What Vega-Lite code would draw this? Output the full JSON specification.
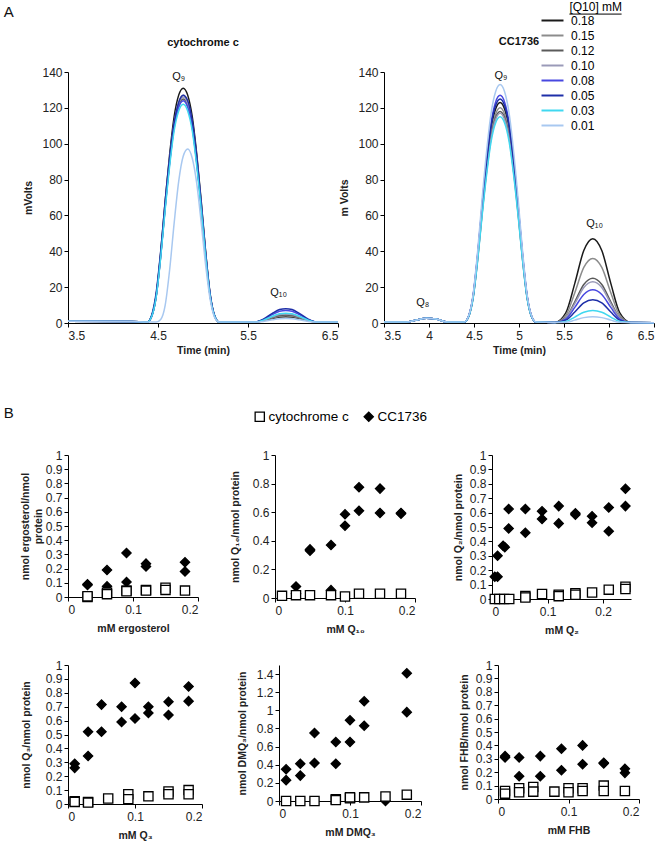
{
"$schema":"https://vega.github.io/schema/vega-lite/v6.json",
"padding":{"left":3,"top":1,"right":4,"bottom":4},
"title":{"text":"A","anchor":"start","frame":"bounds","fontSize":15,"fontWeight":"normal","offset":-19,"font":"Liberation Sans"},
"config":{"font":"Liberation Sans","view":{"stroke":null},
"axis":{"grid":false,"domainColor":"#000","tickColor":"#000","labelFont":"Liberation Sans","labelFontSize":12,"labelColor":"#222","titleFont":"Liberation Sans","titleFontSize":10.5,"titleFontWeight":"bold","titleColor":"#222","tickSize":4,"labelPadding":2,"labelOverlap":false},
"axisX":{"labelPadding":3,"titlePadding":8},
"title":{"font":"Liberation Sans","fontSize":11,"fontWeight":"bold","color":"#111"}},
"datasets":{
"chrom":[
{"p":"L","c":"0.18","t":3.5,"v":1},{"p":"L","c":"0.18","t":4.2,"v":0.8},{"p":"L","c":"0.18","t":4.38,"v":0.5},{"p":"L","c":"0.18","t":4.43,"v":3.9},{"p":"L","c":"0.18","t":4.48,"v":15.7},{"p":"L","c":"0.18","t":4.53,"v":39.3},{"p":"L","c":"0.18","t":4.58,"v":68.1},{"p":"L","c":"0.18","t":4.63,"v":94.3},{"p":"L","c":"0.18","t":4.68,"v":115.3},{"p":"L","c":"0.18","t":4.73,"v":127.1},{"p":"L","c":"0.18","t":4.78,"v":131},{"p":"L","c":"0.18","t":4.83,"v":127.1},{"p":"L","c":"0.18","t":4.88,"v":115.3},{"p":"L","c":"0.18","t":4.93,"v":94.3},{"p":"L","c":"0.18","t":4.98,"v":68.1},{"p":"L","c":"0.18","t":5.03,"v":39.3},{"p":"L","c":"0.18","t":5.08,"v":15.7},{"p":"L","c":"0.18","t":5.13,"v":3.9},{"p":"L","c":"0.18","t":5.18,"v":0.5},{"p":"L","c":"0.18","t":5.57,"v":0.5},{"p":"L","c":"0.18","t":5.67,"v":1.2},{"p":"L","c":"0.18","t":5.77,"v":2.5},{"p":"L","c":"0.18","t":5.85,"v":3.3},{"p":"L","c":"0.18","t":5.92,"v":3.5},{"p":"L","c":"0.18","t":5.99,"v":3.3},{"p":"L","c":"0.18","t":6.07,"v":2.5},{"p":"L","c":"0.18","t":6.17,"v":1.2},{"p":"L","c":"0.18","t":6.27,"v":0.5},{"p":"L","c":"0.18","t":6.5,"v":0.5},
{"p":"L","c":"0.15","t":3.5,"v":1},{"p":"L","c":"0.15","t":4.2,"v":0.8},{"p":"L","c":"0.15","t":4.38,"v":0.5},{"p":"L","c":"0.15","t":4.43,"v":3.8},{"p":"L","c":"0.15","t":4.48,"v":15.2},{"p":"L","c":"0.15","t":4.53,"v":38.1},{"p":"L","c":"0.15","t":4.58,"v":66},{"p":"L","c":"0.15","t":4.63,"v":91.4},{"p":"L","c":"0.15","t":4.68,"v":111.8},{"p":"L","c":"0.15","t":4.73,"v":123.2},{"p":"L","c":"0.15","t":4.78,"v":127},{"p":"L","c":"0.15","t":4.83,"v":123.2},{"p":"L","c":"0.15","t":4.88,"v":111.8},{"p":"L","c":"0.15","t":4.93,"v":91.4},{"p":"L","c":"0.15","t":4.98,"v":66},{"p":"L","c":"0.15","t":5.03,"v":38.1},{"p":"L","c":"0.15","t":5.08,"v":15.2},{"p":"L","c":"0.15","t":5.13,"v":3.8},{"p":"L","c":"0.15","t":5.18,"v":0.5},{"p":"L","c":"0.15","t":5.57,"v":0.5},{"p":"L","c":"0.15","t":5.67,"v":1.3},{"p":"L","c":"0.15","t":5.77,"v":2.8},{"p":"L","c":"0.15","t":5.85,"v":3.8},{"p":"L","c":"0.15","t":5.92,"v":4.0},{"p":"L","c":"0.15","t":5.99,"v":3.8},{"p":"L","c":"0.15","t":6.07,"v":2.8},{"p":"L","c":"0.15","t":6.17,"v":1.3},{"p":"L","c":"0.15","t":6.27,"v":0.5},{"p":"L","c":"0.15","t":6.5,"v":0.5},
{"p":"L","c":"0.12","t":3.5,"v":1},{"p":"L","c":"0.12","t":4.2,"v":0.8},{"p":"L","c":"0.12","t":4.38,"v":0.5},{"p":"L","c":"0.12","t":4.43,"v":3.8},{"p":"L","c":"0.12","t":4.48,"v":15},{"p":"L","c":"0.12","t":4.53,"v":37.5},{"p":"L","c":"0.12","t":4.58,"v":65},{"p":"L","c":"0.12","t":4.63,"v":90},{"p":"L","c":"0.12","t":4.68,"v":110},{"p":"L","c":"0.12","t":4.73,"v":121.3},{"p":"L","c":"0.12","t":4.78,"v":125},{"p":"L","c":"0.12","t":4.83,"v":121.3},{"p":"L","c":"0.12","t":4.88,"v":110},{"p":"L","c":"0.12","t":4.93,"v":90},{"p":"L","c":"0.12","t":4.98,"v":65},{"p":"L","c":"0.12","t":5.03,"v":37.5},{"p":"L","c":"0.12","t":5.08,"v":15},{"p":"L","c":"0.12","t":5.13,"v":3.8},{"p":"L","c":"0.12","t":5.18,"v":0.5},{"p":"L","c":"0.12","t":5.57,"v":0.5},{"p":"L","c":"0.12","t":5.67,"v":1.4},{"p":"L","c":"0.12","t":5.77,"v":3.1},{"p":"L","c":"0.12","t":5.85,"v":4.2},{"p":"L","c":"0.12","t":5.92,"v":4.5},{"p":"L","c":"0.12","t":5.99,"v":4.2},{"p":"L","c":"0.12","t":6.07,"v":3.1},{"p":"L","c":"0.12","t":6.17,"v":1.4},{"p":"L","c":"0.12","t":6.27,"v":0.5},{"p":"L","c":"0.12","t":6.5,"v":0.5},
{"p":"L","c":"0.10","t":3.5,"v":1},{"p":"L","c":"0.10","t":4.2,"v":0.8},{"p":"L","c":"0.10","t":4.38,"v":0.5},{"p":"L","c":"0.10","t":4.43,"v":3.8},{"p":"L","c":"0.10","t":4.48,"v":15.1},{"p":"L","c":"0.10","t":4.53,"v":37.8},{"p":"L","c":"0.10","t":4.58,"v":65.5},{"p":"L","c":"0.10","t":4.63,"v":90.7},{"p":"L","c":"0.10","t":4.68,"v":110.9},{"p":"L","c":"0.10","t":4.73,"v":122.2},{"p":"L","c":"0.10","t":4.78,"v":126},{"p":"L","c":"0.10","t":4.83,"v":122.2},{"p":"L","c":"0.10","t":4.88,"v":110.9},{"p":"L","c":"0.10","t":4.93,"v":90.7},{"p":"L","c":"0.10","t":4.98,"v":65.5},{"p":"L","c":"0.10","t":5.03,"v":37.8},{"p":"L","c":"0.10","t":5.08,"v":15.1},{"p":"L","c":"0.10","t":5.13,"v":3.8},{"p":"L","c":"0.10","t":5.18,"v":0.5},{"p":"L","c":"0.10","t":5.57,"v":0.5},{"p":"L","c":"0.10","t":5.67,"v":1.5},{"p":"L","c":"0.10","t":5.77,"v":3.4},{"p":"L","c":"0.10","t":5.85,"v":4.7},{"p":"L","c":"0.10","t":5.92,"v":5.0},{"p":"L","c":"0.10","t":5.99,"v":4.7},{"p":"L","c":"0.10","t":6.07,"v":3.4},{"p":"L","c":"0.10","t":6.17,"v":1.5},{"p":"L","c":"0.10","t":6.27,"v":0.5},{"p":"L","c":"0.10","t":6.5,"v":0.5},
{"p":"L","c":"0.08","t":3.5,"v":1},{"p":"L","c":"0.08","t":4.2,"v":0.8},{"p":"L","c":"0.08","t":4.38,"v":0.5},{"p":"L","c":"0.08","t":4.43,"v":3.7},{"p":"L","c":"0.08","t":4.48,"v":14.9},{"p":"L","c":"0.08","t":4.53,"v":37.2},{"p":"L","c":"0.08","t":4.58,"v":64.5},{"p":"L","c":"0.08","t":4.63,"v":89.3},{"p":"L","c":"0.08","t":4.68,"v":109.1},{"p":"L","c":"0.08","t":4.73,"v":120.3},{"p":"L","c":"0.08","t":4.78,"v":124},{"p":"L","c":"0.08","t":4.83,"v":120.3},{"p":"L","c":"0.08","t":4.88,"v":109.1},{"p":"L","c":"0.08","t":4.93,"v":89.3},{"p":"L","c":"0.08","t":4.98,"v":64.5},{"p":"L","c":"0.08","t":5.03,"v":37.2},{"p":"L","c":"0.08","t":5.08,"v":14.9},{"p":"L","c":"0.08","t":5.13,"v":3.7},{"p":"L","c":"0.08","t":5.18,"v":0.5},{"p":"L","c":"0.08","t":5.57,"v":0.5},{"p":"L","c":"0.08","t":5.67,"v":1.9},{"p":"L","c":"0.08","t":5.77,"v":4.7},{"p":"L","c":"0.08","t":5.85,"v":6.5},{"p":"L","c":"0.08","t":5.92,"v":7.0},{"p":"L","c":"0.08","t":5.99,"v":6.5},{"p":"L","c":"0.08","t":6.07,"v":4.7},{"p":"L","c":"0.08","t":6.17,"v":1.9},{"p":"L","c":"0.08","t":6.27,"v":0.5},{"p":"L","c":"0.08","t":6.5,"v":0.5},
{"p":"L","c":"0.05","t":3.5,"v":1},{"p":"L","c":"0.05","t":4.2,"v":0.8},{"p":"L","c":"0.05","t":4.38,"v":0.5},{"p":"L","c":"0.05","t":4.43,"v":4.5},{"p":"L","c":"0.05","t":4.48,"v":17},{"p":"L","c":"0.05","t":4.53,"v":40},{"p":"L","c":"0.05","t":4.58,"v":68},{"p":"L","c":"0.05","t":4.63,"v":92.5},{"p":"L","c":"0.05","t":4.68,"v":112},{"p":"L","c":"0.05","t":4.73,"v":123},{"p":"L","c":"0.05","t":4.78,"v":127},{"p":"L","c":"0.05","t":4.83,"v":124},{"p":"L","c":"0.05","t":4.88,"v":113},{"p":"L","c":"0.05","t":4.93,"v":93},{"p":"L","c":"0.05","t":4.98,"v":67},{"p":"L","c":"0.05","t":5.03,"v":39},{"p":"L","c":"0.05","t":5.08,"v":16},{"p":"L","c":"0.05","t":5.13,"v":4},{"p":"L","c":"0.05","t":5.18,"v":0.5},{"p":"L","c":"0.05","t":5.57,"v":0.5},{"p":"L","c":"0.05","t":5.67,"v":2.2},{"p":"L","c":"0.05","t":5.77,"v":5.4},{"p":"L","c":"0.05","t":5.85,"v":7.5},{"p":"L","c":"0.05","t":5.92,"v":8.0},{"p":"L","c":"0.05","t":5.99,"v":7.5},{"p":"L","c":"0.05","t":6.07,"v":5.4},{"p":"L","c":"0.05","t":6.17,"v":2.2},{"p":"L","c":"0.05","t":6.27,"v":0.5},{"p":"L","c":"0.05","t":6.5,"v":0.5},
{"p":"L","c":"0.03","t":3.5,"v":1},{"p":"L","c":"0.03","t":4.2,"v":0.8},{"p":"L","c":"0.03","t":4.38,"v":0.5},{"p":"L","c":"0.03","t":4.43,"v":3.7},{"p":"L","c":"0.03","t":4.48,"v":14.6},{"p":"L","c":"0.03","t":4.53,"v":36.6},{"p":"L","c":"0.03","t":4.58,"v":63.4},{"p":"L","c":"0.03","t":4.63,"v":87.8},{"p":"L","c":"0.03","t":4.68,"v":107.4},{"p":"L","c":"0.03","t":4.73,"v":118.3},{"p":"L","c":"0.03","t":4.78,"v":122},{"p":"L","c":"0.03","t":4.83,"v":118.3},{"p":"L","c":"0.03","t":4.88,"v":107.4},{"p":"L","c":"0.03","t":4.93,"v":87.8},{"p":"L","c":"0.03","t":4.98,"v":63.4},{"p":"L","c":"0.03","t":5.03,"v":36.6},{"p":"L","c":"0.03","t":5.08,"v":14.6},{"p":"L","c":"0.03","t":5.13,"v":3.7},{"p":"L","c":"0.03","t":5.18,"v":0.5},{"p":"L","c":"0.03","t":5.57,"v":0.5},{"p":"L","c":"0.03","t":5.67,"v":1.6},{"p":"L","c":"0.03","t":5.77,"v":3.8},{"p":"L","c":"0.03","t":5.85,"v":5.2},{"p":"L","c":"0.03","t":5.92,"v":5.5},{"p":"L","c":"0.03","t":5.99,"v":5.2},{"p":"L","c":"0.03","t":6.07,"v":3.8},{"p":"L","c":"0.03","t":6.17,"v":1.6},{"p":"L","c":"0.03","t":6.27,"v":0.5},{"p":"L","c":"0.03","t":6.5,"v":0.5},
{"p":"L","c":"0.01","t":3.5,"v":1},{"p":"L","c":"0.01","t":4.2,"v":0.8},{"p":"L","c":"0.01","t":4.38,"v":0.5},{"p":"L","c":"0.01","t":4.43,"v":0.5},{"p":"L","c":"0.01","t":4.48,"v":0.5},{"p":"L","c":"0.01","t":4.53,"v":2},{"p":"L","c":"0.01","t":4.58,"v":10},{"p":"L","c":"0.01","t":4.63,"v":30},{"p":"L","c":"0.01","t":4.68,"v":56},{"p":"L","c":"0.01","t":4.73,"v":79},{"p":"L","c":"0.01","t":4.78,"v":93},{"p":"L","c":"0.01","t":4.83,"v":97},{"p":"L","c":"0.01","t":4.88,"v":92},{"p":"L","c":"0.01","t":4.93,"v":78},{"p":"L","c":"0.01","t":4.98,"v":56},{"p":"L","c":"0.01","t":5.03,"v":32},{"p":"L","c":"0.01","t":5.08,"v":13},{"p":"L","c":"0.01","t":5.13,"v":3},{"p":"L","c":"0.01","t":5.18,"v":0.5},{"p":"L","c":"0.01","t":5.57,"v":0.5},{"p":"L","c":"0.01","t":5.67,"v":0.9},{"p":"L","c":"0.01","t":5.77,"v":1.8},{"p":"L","c":"0.01","t":5.85,"v":2.4},{"p":"L","c":"0.01","t":5.92,"v":2.5},{"p":"L","c":"0.01","t":5.99,"v":2.4},{"p":"L","c":"0.01","t":6.07,"v":1.8},{"p":"L","c":"0.01","t":6.17,"v":0.9},{"p":"L","c":"0.01","t":6.27,"v":0.5},{"p":"L","c":"0.01","t":6.5,"v":0.5},
{"p":"R","c":"0.18","t":3.5,"v":0.5},{"p":"R","c":"0.18","t":3.75,"v":0.5},{"p":"R","c":"0.18","t":3.85,"v":1.5},{"p":"R","c":"0.18","t":3.97,"v":2.6},{"p":"R","c":"0.18","t":4.08,"v":2.2},{"p":"R","c":"0.18","t":4.2,"v":0.6},{"p":"R","c":"0.18","t":4.39,"v":0.5},{"p":"R","c":"0.18","t":4.44,"v":3.7},{"p":"R","c":"0.18","t":4.49,"v":14.8},{"p":"R","c":"0.18","t":4.54,"v":36.9},{"p":"R","c":"0.18","t":4.59,"v":64},{"p":"R","c":"0.18","t":4.64,"v":88.6},{"p":"R","c":"0.18","t":4.69,"v":108.2},{"p":"R","c":"0.18","t":4.74,"v":119.3},{"p":"R","c":"0.18","t":4.79,"v":123},{"p":"R","c":"0.18","t":4.84,"v":119.3},{"p":"R","c":"0.18","t":4.89,"v":108.2},{"p":"R","c":"0.18","t":4.94,"v":88.6},{"p":"R","c":"0.18","t":4.99,"v":64},{"p":"R","c":"0.18","t":5.04,"v":36.9},{"p":"R","c":"0.18","t":5.09,"v":14.8},{"p":"R","c":"0.18","t":5.14,"v":3.7},{"p":"R","c":"0.18","t":5.19,"v":0.5},{"p":"R","c":"0.18","t":5.4,"v":0.3},{"p":"R","c":"0.18","t":5.52,"v":5.6},{"p":"R","c":"0.18","t":5.62,"v":22.1},{"p":"R","c":"0.18","t":5.72,"v":40.4},{"p":"R","c":"0.18","t":5.82,"v":47},{"p":"R","c":"0.18","t":5.92,"v":40.4},{"p":"R","c":"0.18","t":6.02,"v":22.1},{"p":"R","c":"0.18","t":6.12,"v":5.6},{"p":"R","c":"0.18","t":6.24,"v":0.3},{"p":"R","c":"0.18","t":6.5,"v":0.2},
{"p":"R","c":"0.15","t":3.5,"v":0.5},{"p":"R","c":"0.15","t":3.75,"v":0.5},{"p":"R","c":"0.15","t":3.85,"v":1.5},{"p":"R","c":"0.15","t":3.97,"v":2.6},{"p":"R","c":"0.15","t":4.08,"v":2.2},{"p":"R","c":"0.15","t":4.2,"v":0.6},{"p":"R","c":"0.15","t":4.39,"v":0.5},{"p":"R","c":"0.15","t":4.44,"v":3.6},{"p":"R","c":"0.15","t":4.49,"v":14.4},{"p":"R","c":"0.15","t":4.54,"v":36},{"p":"R","c":"0.15","t":4.59,"v":62.4},{"p":"R","c":"0.15","t":4.64,"v":86.4},{"p":"R","c":"0.15","t":4.69,"v":105.6},{"p":"R","c":"0.15","t":4.74,"v":116.4},{"p":"R","c":"0.15","t":4.79,"v":120},{"p":"R","c":"0.15","t":4.84,"v":116.4},{"p":"R","c":"0.15","t":4.89,"v":105.6},{"p":"R","c":"0.15","t":4.94,"v":86.4},{"p":"R","c":"0.15","t":4.99,"v":62.4},{"p":"R","c":"0.15","t":5.04,"v":36},{"p":"R","c":"0.15","t":5.09,"v":14.4},{"p":"R","c":"0.15","t":5.14,"v":3.6},{"p":"R","c":"0.15","t":5.19,"v":0.5},{"p":"R","c":"0.15","t":5.4,"v":0.3},{"p":"R","c":"0.15","t":5.52,"v":4.3},{"p":"R","c":"0.15","t":5.62,"v":16.9},{"p":"R","c":"0.15","t":5.72,"v":31},{"p":"R","c":"0.15","t":5.82,"v":36},{"p":"R","c":"0.15","t":5.92,"v":31},{"p":"R","c":"0.15","t":6.02,"v":16.9},{"p":"R","c":"0.15","t":6.12,"v":4.3},{"p":"R","c":"0.15","t":6.24,"v":0.3},{"p":"R","c":"0.15","t":6.5,"v":0.2},
{"p":"R","c":"0.12","t":3.5,"v":0.5},{"p":"R","c":"0.12","t":3.75,"v":0.5},{"p":"R","c":"0.12","t":3.85,"v":1.5},{"p":"R","c":"0.12","t":3.97,"v":2.6},{"p":"R","c":"0.12","t":4.08,"v":2.2},{"p":"R","c":"0.12","t":4.2,"v":0.6},{"p":"R","c":"0.12","t":4.39,"v":0.5},{"p":"R","c":"0.12","t":4.44,"v":3.5},{"p":"R","c":"0.12","t":4.49,"v":14.2},{"p":"R","c":"0.12","t":4.54,"v":35.4},{"p":"R","c":"0.12","t":4.59,"v":61.4},{"p":"R","c":"0.12","t":4.64,"v":85},{"p":"R","c":"0.12","t":4.69,"v":103.8},{"p":"R","c":"0.12","t":4.74,"v":114.5},{"p":"R","c":"0.12","t":4.79,"v":118},{"p":"R","c":"0.12","t":4.84,"v":114.5},{"p":"R","c":"0.12","t":4.89,"v":103.8},{"p":"R","c":"0.12","t":4.94,"v":85},{"p":"R","c":"0.12","t":4.99,"v":61.4},{"p":"R","c":"0.12","t":5.04,"v":35.4},{"p":"R","c":"0.12","t":5.09,"v":14.2},{"p":"R","c":"0.12","t":5.14,"v":3.5},{"p":"R","c":"0.12","t":5.19,"v":0.5},{"p":"R","c":"0.12","t":5.4,"v":0.3},{"p":"R","c":"0.12","t":5.52,"v":3},{"p":"R","c":"0.12","t":5.62,"v":11.8},{"p":"R","c":"0.12","t":5.72,"v":21.5},{"p":"R","c":"0.12","t":5.82,"v":25},{"p":"R","c":"0.12","t":5.92,"v":21.5},{"p":"R","c":"0.12","t":6.02,"v":11.8},{"p":"R","c":"0.12","t":6.12,"v":3},{"p":"R","c":"0.12","t":6.24,"v":0.3},{"p":"R","c":"0.12","t":6.5,"v":0.2},
{"p":"R","c":"0.10","t":3.5,"v":0.5},{"p":"R","c":"0.10","t":3.75,"v":0.5},{"p":"R","c":"0.10","t":3.85,"v":1.5},{"p":"R","c":"0.10","t":3.97,"v":2.6},{"p":"R","c":"0.10","t":4.08,"v":2.2},{"p":"R","c":"0.10","t":4.2,"v":0.6},{"p":"R","c":"0.10","t":4.39,"v":0.5},{"p":"R","c":"0.10","t":4.44,"v":3.5},{"p":"R","c":"0.10","t":4.49,"v":14},{"p":"R","c":"0.10","t":4.54,"v":35.1},{"p":"R","c":"0.10","t":4.59,"v":60.8},{"p":"R","c":"0.10","t":4.64,"v":84.2},{"p":"R","c":"0.10","t":4.69,"v":103},{"p":"R","c":"0.10","t":4.74,"v":113.5},{"p":"R","c":"0.10","t":4.79,"v":117},{"p":"R","c":"0.10","t":4.84,"v":113.5},{"p":"R","c":"0.10","t":4.89,"v":103},{"p":"R","c":"0.10","t":4.94,"v":84.2},{"p":"R","c":"0.10","t":4.99,"v":60.8},{"p":"R","c":"0.10","t":5.04,"v":35.1},{"p":"R","c":"0.10","t":5.09,"v":14},{"p":"R","c":"0.10","t":5.14,"v":3.5},{"p":"R","c":"0.10","t":5.19,"v":0.5},{"p":"R","c":"0.10","t":5.4,"v":0.3},{"p":"R","c":"0.10","t":5.52,"v":2.8},{"p":"R","c":"0.10","t":5.62,"v":10.8},{"p":"R","c":"0.10","t":5.72,"v":19.8},{"p":"R","c":"0.10","t":5.82,"v":23},{"p":"R","c":"0.10","t":5.92,"v":19.8},{"p":"R","c":"0.10","t":6.02,"v":10.8},{"p":"R","c":"0.10","t":6.12,"v":2.8},{"p":"R","c":"0.10","t":6.24,"v":0.3},{"p":"R","c":"0.10","t":6.5,"v":0.2},
{"p":"R","c":"0.08","t":3.5,"v":0.5},{"p":"R","c":"0.08","t":3.75,"v":0.5},{"p":"R","c":"0.08","t":3.85,"v":1.5},{"p":"R","c":"0.08","t":3.97,"v":2.6},{"p":"R","c":"0.08","t":4.08,"v":2.2},{"p":"R","c":"0.08","t":4.2,"v":0.6},{"p":"R","c":"0.08","t":4.39,"v":0.5},{"p":"R","c":"0.08","t":4.44,"v":3.8},{"p":"R","c":"0.08","t":4.49,"v":15.2},{"p":"R","c":"0.08","t":4.54,"v":38.1},{"p":"R","c":"0.08","t":4.59,"v":66},{"p":"R","c":"0.08","t":4.64,"v":91.4},{"p":"R","c":"0.08","t":4.69,"v":111.8},{"p":"R","c":"0.08","t":4.74,"v":123.2},{"p":"R","c":"0.08","t":4.79,"v":127},{"p":"R","c":"0.08","t":4.84,"v":123.2},{"p":"R","c":"0.08","t":4.89,"v":111.8},{"p":"R","c":"0.08","t":4.94,"v":91.4},{"p":"R","c":"0.08","t":4.99,"v":66},{"p":"R","c":"0.08","t":5.04,"v":38.1},{"p":"R","c":"0.08","t":5.09,"v":15.2},{"p":"R","c":"0.08","t":5.14,"v":3.8},{"p":"R","c":"0.08","t":5.19,"v":0.5},{"p":"R","c":"0.08","t":5.4,"v":0.3},{"p":"R","c":"0.08","t":5.52,"v":2.2},{"p":"R","c":"0.08","t":5.62,"v":8.7},{"p":"R","c":"0.08","t":5.72,"v":15.9},{"p":"R","c":"0.08","t":5.82,"v":18.5},{"p":"R","c":"0.08","t":5.92,"v":15.9},{"p":"R","c":"0.08","t":6.02,"v":8.7},{"p":"R","c":"0.08","t":6.12,"v":2.2},{"p":"R","c":"0.08","t":6.24,"v":0.3},{"p":"R","c":"0.08","t":6.5,"v":0.2},
{"p":"R","c":"0.05","t":3.5,"v":0.5},{"p":"R","c":"0.05","t":3.75,"v":0.5},{"p":"R","c":"0.05","t":3.85,"v":1.5},{"p":"R","c":"0.05","t":3.97,"v":2.6},{"p":"R","c":"0.05","t":4.08,"v":2.2},{"p":"R","c":"0.05","t":4.2,"v":0.6},{"p":"R","c":"0.05","t":4.39,"v":0.5},{"p":"R","c":"0.05","t":4.44,"v":3.8},{"p":"R","c":"0.05","t":4.49,"v":15},{"p":"R","c":"0.05","t":4.54,"v":37.5},{"p":"R","c":"0.05","t":4.59,"v":65},{"p":"R","c":"0.05","t":4.64,"v":90},{"p":"R","c":"0.05","t":4.69,"v":110},{"p":"R","c":"0.05","t":4.74,"v":121.3},{"p":"R","c":"0.05","t":4.79,"v":125},{"p":"R","c":"0.05","t":4.84,"v":121.3},{"p":"R","c":"0.05","t":4.89,"v":110},{"p":"R","c":"0.05","t":4.94,"v":90},{"p":"R","c":"0.05","t":4.99,"v":65},{"p":"R","c":"0.05","t":5.04,"v":37.5},{"p":"R","c":"0.05","t":5.09,"v":15},{"p":"R","c":"0.05","t":5.14,"v":3.8},{"p":"R","c":"0.05","t":5.19,"v":0.5},{"p":"R","c":"0.05","t":5.4,"v":0.3},{"p":"R","c":"0.05","t":5.52,"v":1.6},{"p":"R","c":"0.05","t":5.62,"v":6.1},{"p":"R","c":"0.05","t":5.72,"v":11.2},{"p":"R","c":"0.05","t":5.82,"v":13},{"p":"R","c":"0.05","t":5.92,"v":11.2},{"p":"R","c":"0.05","t":6.02,"v":6.1},{"p":"R","c":"0.05","t":6.12,"v":1.6},{"p":"R","c":"0.05","t":6.24,"v":0.3},{"p":"R","c":"0.05","t":6.5,"v":0.2},
{"p":"R","c":"0.03","t":3.5,"v":0.5},{"p":"R","c":"0.03","t":3.75,"v":0.5},{"p":"R","c":"0.03","t":3.85,"v":1.5},{"p":"R","c":"0.03","t":3.97,"v":2.6},{"p":"R","c":"0.03","t":4.08,"v":2.2},{"p":"R","c":"0.03","t":4.2,"v":0.6},{"p":"R","c":"0.03","t":4.39,"v":0.5},{"p":"R","c":"0.03","t":4.44,"v":3.5},{"p":"R","c":"0.03","t":4.49,"v":13.8},{"p":"R","c":"0.03","t":4.54,"v":34.5},{"p":"R","c":"0.03","t":4.59,"v":59.8},{"p":"R","c":"0.03","t":4.64,"v":82.8},{"p":"R","c":"0.03","t":4.69,"v":101.2},{"p":"R","c":"0.03","t":4.74,"v":111.6},{"p":"R","c":"0.03","t":4.79,"v":115},{"p":"R","c":"0.03","t":4.84,"v":111.6},{"p":"R","c":"0.03","t":4.89,"v":101.2},{"p":"R","c":"0.03","t":4.94,"v":82.8},{"p":"R","c":"0.03","t":4.99,"v":59.8},{"p":"R","c":"0.03","t":5.04,"v":34.5},{"p":"R","c":"0.03","t":5.09,"v":13.8},{"p":"R","c":"0.03","t":5.14,"v":3.5},{"p":"R","c":"0.03","t":5.19,"v":0.5},{"p":"R","c":"0.03","t":5.4,"v":0.3},{"p":"R","c":"0.03","t":5.52,"v":0.8},{"p":"R","c":"0.03","t":5.62,"v":3.3},{"p":"R","c":"0.03","t":5.72,"v":6},{"p":"R","c":"0.03","t":5.82,"v":7},{"p":"R","c":"0.03","t":5.92,"v":6},{"p":"R","c":"0.03","t":6.02,"v":3.3},{"p":"R","c":"0.03","t":6.12,"v":0.8},{"p":"R","c":"0.03","t":6.24,"v":0.3},{"p":"R","c":"0.03","t":6.5,"v":0.2},
{"p":"R","c":"0.01","t":3.5,"v":0.5},{"p":"R","c":"0.01","t":3.75,"v":0.5},{"p":"R","c":"0.01","t":3.85,"v":1.5},{"p":"R","c":"0.01","t":3.97,"v":2.6},{"p":"R","c":"0.01","t":4.08,"v":2.2},{"p":"R","c":"0.01","t":4.2,"v":0.6},{"p":"R","c":"0.01","t":4.39,"v":0.5},{"p":"R","c":"0.01","t":4.44,"v":4},{"p":"R","c":"0.01","t":4.49,"v":16},{"p":"R","c":"0.01","t":4.54,"v":39.9},{"p":"R","c":"0.01","t":4.59,"v":69.2},{"p":"R","c":"0.01","t":4.64,"v":95.8},{"p":"R","c":"0.01","t":4.69,"v":117},{"p":"R","c":"0.01","t":4.74,"v":129},{"p":"R","c":"0.01","t":4.79,"v":133},{"p":"R","c":"0.01","t":4.84,"v":129},{"p":"R","c":"0.01","t":4.89,"v":117},{"p":"R","c":"0.01","t":4.94,"v":95.8},{"p":"R","c":"0.01","t":4.99,"v":69.2},{"p":"R","c":"0.01","t":5.04,"v":39.9},{"p":"R","c":"0.01","t":5.09,"v":16},{"p":"R","c":"0.01","t":5.14,"v":4},{"p":"R","c":"0.01","t":5.19,"v":0.5},{"p":"R","c":"0.01","t":5.4,"v":0.3},{"p":"R","c":"0.01","t":5.52,"v":0.4},{"p":"R","c":"0.01","t":5.62,"v":1.6},{"p":"R","c":"0.01","t":5.72,"v":3},{"p":"R","c":"0.01","t":5.82,"v":3.5},{"p":"R","c":"0.01","t":5.92,"v":3},{"p":"R","c":"0.01","t":6.02,"v":1.6},{"p":"R","c":"0.01","t":6.12,"v":0.4},{"p":"R","c":"0.01","t":6.24,"v":0.3},{"p":"R","c":"0.01","t":6.5,"v":0.2}
],
"labL":[{"t":4.73,"v":137,"s":"Q₉"},{"t":5.84,"v":17,"s":"Q₁₀"}],
"labR":[{"t":3.93,"v":11,"s":"Q₈"},{"t":4.8,"v":138,"s":"Q₉"},{"t":5.84,"v":55,"s":"Q₁₀"}],
"legTitle":[{"t":5.56,"v":176,"s":"[Q10] mM"}],
"legLine":[{"t":5.56,"t2":6.14,"v":172.3}],
"ergo":[
{"x":0.03,"y":0.09,"g":"CC1736"},{"x":0.03,"y":0.085,"g":"CC1736"},{"x":0.06,"y":0.19,"g":"CC1736"},{"x":0.06,"y":0.075,"g":"CC1736"},{"x":0.09,"y":0.31,"g":"CC1736"},{"x":0.09,"y":0.105,"g":"CC1736"},{"x":0.12,"y":0.235,"g":"CC1736"},{"x":0.12,"y":0.215,"g":"CC1736"},{"x":0.18,"y":0.245,"g":"CC1736"},{"x":0.18,"y":0.18,"g":"CC1736"},
{"x":0.03,"y":0.0,"g":"cytochrome c"},{"x":0.03,"y":0.005,"g":"cytochrome c"},{"x":0.06,"y":0.03,"g":"cytochrome c"},{"x":0.06,"y":0.02,"g":"cytochrome c"},{"x":0.09,"y":0.045,"g":"cytochrome c"},{"x":0.09,"y":0.04,"g":"cytochrome c"},{"x":0.12,"y":0.05,"g":"cytochrome c"},{"x":0.12,"y":0.045,"g":"cytochrome c"},{"x":0.15,"y":0.065,"g":"cytochrome c"},{"x":0.15,"y":0.05,"g":"cytochrome c"},{"x":0.18,"y":0.045,"g":"cytochrome c"}],
"q10":[
{"x":0.03,"y":0.08,"g":"CC1736"},{"x":0.03,"y":0.03,"g":"CC1736"},{"x":0.05,"y":0.34,"g":"CC1736"},{"x":0.05,"y":0.33,"g":"CC1736"},{"x":0.08,"y":0.37,"g":"CC1736"},{"x":0.08,"y":0.055,"g":"CC1736"},{"x":0.10,"y":0.585,"g":"CC1736"},{"x":0.10,"y":0.505,"g":"CC1736"},{"x":0.12,"y":0.775,"g":"CC1736"},{"x":0.12,"y":0.61,"g":"CC1736"},{"x":0.15,"y":0.765,"g":"CC1736"},{"x":0.15,"y":0.595,"g":"CC1736"},{"x":0.18,"y":0.595,"g":"CC1736"},{"x":0.18,"y":0.59,"g":"CC1736"},
{"x":0.01,"y":0.015,"g":"cytochrome c"},{"x":0.03,"y":0.02,"g":"cytochrome c"},{"x":0.05,"y":0.02,"g":"cytochrome c"},{"x":0.08,"y":0.02,"g":"cytochrome c"},{"x":0.10,"y":0.01,"g":"cytochrome c"},{"x":0.12,"y":0.03,"g":"cytochrome c"},{"x":0.15,"y":0.03,"g":"cytochrome c"},{"x":0.18,"y":0.03,"g":"cytochrome c"}],
"q2":[
{"x":0.005,"y":0.155,"g":"CC1736"},{"x":0.01,"y":0.155,"g":"CC1736"},{"x":0.01,"y":0.30,"g":"CC1736"},{"x":0.02,"y":0.37,"g":"CC1736"},{"x":0.023,"y":0.36,"g":"CC1736"},{"x":0.03,"y":0.625,"g":"CC1736"},{"x":0.03,"y":0.49,"g":"CC1736"},{"x":0.06,"y":0.625,"g":"CC1736"},{"x":0.06,"y":0.46,"g":"CC1736"},{"x":0.09,"y":0.61,"g":"CC1736"},{"x":0.09,"y":0.555,"g":"CC1736"},{"x":0.12,"y":0.645,"g":"CC1736"},{"x":0.12,"y":0.525,"g":"CC1736"},{"x":0.15,"y":0.595,"g":"CC1736"},{"x":0.15,"y":0.585,"g":"CC1736"},{"x":0.18,"y":0.575,"g":"CC1736"},{"x":0.18,"y":0.53,"g":"CC1736"},{"x":0.21,"y":0.635,"g":"CC1736"},{"x":0.21,"y":0.47,"g":"CC1736"},{"x":0.24,"y":0.765,"g":"CC1736"},{"x":0.24,"y":0.645,"g":"CC1736"},
{"x":0.005,"y":0.0,"g":"cytochrome c"},{"x":0.013,"y":0.0,"g":"cytochrome c"},{"x":0.022,"y":0.0,"g":"cytochrome c"},{"x":0.031,"y":0.0,"g":"cytochrome c"},{"x":0.06,"y":0.02,"g":"cytochrome c"},{"x":0.06,"y":0.01,"g":"cytochrome c"},{"x":0.09,"y":0.035,"g":"cytochrome c"},{"x":0.12,"y":0.03,"g":"cytochrome c"},{"x":0.12,"y":0.02,"g":"cytochrome c"},{"x":0.15,"y":0.04,"g":"cytochrome c"},{"x":0.15,"y":0.03,"g":"cytochrome c"},{"x":0.18,"y":0.045,"g":"cytochrome c"},{"x":0.21,"y":0.065,"g":"cytochrome c"},{"x":0.24,"y":0.085,"g":"cytochrome c"},{"x":0.24,"y":0.07,"g":"cytochrome c"}],
"q3":[
{"x":0.01,"y":0.29,"g":"CC1736"},{"x":0.01,"y":0.26,"g":"CC1736"},{"x":0.03,"y":0.52,"g":"CC1736"},{"x":0.03,"y":0.345,"g":"CC1736"},{"x":0.05,"y":0.715,"g":"CC1736"},{"x":0.05,"y":0.52,"g":"CC1736"},{"x":0.08,"y":0.70,"g":"CC1736"},{"x":0.08,"y":0.59,"g":"CC1736"},{"x":0.10,"y":0.87,"g":"CC1736"},{"x":0.10,"y":0.615,"g":"CC1736"},{"x":0.12,"y":0.70,"g":"CC1736"},{"x":0.12,"y":0.655,"g":"CC1736"},{"x":0.15,"y":0.735,"g":"CC1736"},{"x":0.15,"y":0.64,"g":"CC1736"},{"x":0.18,"y":0.845,"g":"CC1736"},{"x":0.18,"y":0.74,"g":"CC1736"},
{"x":0.01,"y":0.02,"g":"cytochrome c"},{"x":0.01,"y":0.015,"g":"cytochrome c"},{"x":0.03,"y":0.015,"g":"cytochrome c"},{"x":0.03,"y":0.01,"g":"cytochrome c"},{"x":0.06,"y":0.04,"g":"cytochrome c"},{"x":0.09,"y":0.07,"g":"cytochrome c"},{"x":0.09,"y":0.035,"g":"cytochrome c"},{"x":0.12,"y":0.055,"g":"cytochrome c"},{"x":0.15,"y":0.09,"g":"cytochrome c"},{"x":0.15,"y":0.07,"g":"cytochrome c"},{"x":0.18,"y":0.10,"g":"cytochrome c"},{"x":0.18,"y":0.07,"g":"cytochrome c"}],
"dmq3":[
{"x":0.01,"y":0.35,"g":"CC1736"},{"x":0.01,"y":0.23,"g":"CC1736"},{"x":0.03,"y":0.41,"g":"CC1736"},{"x":0.03,"y":0.28,"g":"CC1736"},{"x":0.05,"y":0.75,"g":"CC1736"},{"x":0.05,"y":0.42,"g":"CC1736"},{"x":0.08,"y":0.65,"g":"CC1736"},{"x":0.08,"y":0.41,"g":"CC1736"},{"x":0.10,"y":0.89,"g":"CC1736"},{"x":0.10,"y":0.65,"g":"CC1736"},{"x":0.12,"y":1.10,"g":"CC1736"},{"x":0.12,"y":0.83,"g":"CC1736"},{"x":0.15,"y":0.0,"g":"CC1736"},{"x":0.18,"y":1.41,"g":"CC1736"},{"x":0.18,"y":0.98,"g":"CC1736"},
{"x":0.01,"y":0.0,"g":"cytochrome c"},{"x":0.03,"y":0.0,"g":"cytochrome c"},{"x":0.05,"y":0.0,"g":"cytochrome c"},{"x":0.08,"y":0.02,"g":"cytochrome c"},{"x":0.08,"y":0.01,"g":"cytochrome c"},{"x":0.10,"y":0.03,"g":"cytochrome c"},{"x":0.10,"y":0.04,"g":"cytochrome c"},{"x":0.12,"y":0.04,"g":"cytochrome c"},{"x":0.15,"y":0.05,"g":"cytochrome c"},{"x":0.18,"y":0.07,"g":"cytochrome c"}],
"fhb":[
{"x":0.01,"y":0.32,"g":"CC1736"},{"x":0.01,"y":0.31,"g":"CC1736"},{"x":0.03,"y":0.31,"g":"CC1736"},{"x":0.03,"y":0.17,"g":"CC1736"},{"x":0.06,"y":0.32,"g":"CC1736"},{"x":0.06,"y":0.17,"g":"CC1736"},{"x":0.09,"y":0.375,"g":"CC1736"},{"x":0.09,"y":0.215,"g":"CC1736"},{"x":0.12,"y":0.40,"g":"CC1736"},{"x":0.12,"y":0.26,"g":"CC1736"},{"x":0.15,"y":0.27,"g":"CC1736"},{"x":0.15,"y":0.265,"g":"CC1736"},{"x":0.18,"y":0.225,"g":"CC1736"},{"x":0.18,"y":0.195,"g":"CC1736"},
{"x":0.01,"y":0.06,"g":"cytochrome c"},{"x":0.01,"y":0.04,"g":"cytochrome c"},{"x":0.03,"y":0.08,"g":"cytochrome c"},{"x":0.03,"y":0.05,"g":"cytochrome c"},{"x":0.05,"y":0.09,"g":"cytochrome c"},{"x":0.05,"y":0.055,"g":"cytochrome c"},{"x":0.08,"y":0.055,"g":"cytochrome c"},{"x":0.10,"y":0.08,"g":"cytochrome c"},{"x":0.10,"y":0.05,"g":"cytochrome c"},{"x":0.12,"y":0.08,"g":"cytochrome c"},{"x":0.12,"y":0.06,"g":"cytochrome c"},{"x":0.15,"y":0.10,"g":"cytochrome c"},{"x":0.15,"y":0.06,"g":"cytochrome c"},{"x":0.18,"y":0.06,"g":"cytochrome c"}]
},
"spacing":50,
"vconcat":[
{"hconcat":[
 {"width":270,"height":251,"title":{"text":"cytochrome c","offset":18},
  "encoding":{
   "x":{"field":"t","type":"quantitative","scale":{"domain":[3.5,6.5],"nice":false},"axis":{"values":[3.5,4.5,5.5,6.5],"format":".1f","title":"Time (min)","titlePadding":4,"labelOverlap":false}},
   "y":{"field":"v","type":"quantitative","scale":{"domain":[0,140],"nice":false},"axis":{"values":[0,20,40,60,80,100,120,140],"title":"mVolts","titlePadding":8,"labelOverlap":false}}},
  "layer":[
   {"data":{"name":"chrom"},"transform":[{"filter":"datum.p == 'L'"}],
    "mark":{"type":"line","interpolate":"monotone","strokeWidth":1.5},
    "encoding":{
     "color":{"field":"c","type":"nominal","scale":{"domain":["0.18","0.15","0.12","0.10","0.08","0.05","0.03","0.01"],"range":["#1a1a1a","#8c8c8c","#5a5a5a","#9a9ab8","#4848e0","#1e2fa8","#40d8f0","#a8c8f0"]},
      "legend":{"orient":"none","legendX":478,"legendY":-58,"title":null,"symbolType":"M-2,0H2","symbolSize":121,"symbolStrokeWidth":2,"labelFontSize":12,"labelColor":"#000","labelOffset":12,"rowPadding":2}}}},
   {"data":{"name":"labL"},"mark":{"type":"text","fontSize":11,"color":"#111","font":"Liberation Sans"},
    "encoding":{"text":{"field":"s"}}}
  ]},
 {"width":270,"height":251,"title":{"text":"CC1736","offset":-46},
  "encoding":{
   "x":{"field":"t","type":"quantitative","scale":{"domain":[3.5,6.5],"nice":false},"axis":{"values":[3.5,4,4.5,5,5.5,6,6.5],"format":"~g","title":"Time (min)","titlePadding":4,"labelOverlap":false}},
   "y":{"field":"v","type":"quantitative","scale":{"domain":[0,140],"nice":false},"axis":{"values":[0,20,40,60,80,100,120,140],"title":"m Volts","titlePadding":8,"labelOverlap":false}}},
  "layer":[
   {"data":{"name":"chrom"},"transform":[{"filter":"datum.p == 'R'"}],
    "mark":{"type":"line","interpolate":"monotone","strokeWidth":1.5},
    "encoding":{
     "color":{"field":"c","type":"nominal","scale":{"domain":["0.18","0.15","0.12","0.10","0.08","0.05","0.03","0.01"],"range":["#1a1a1a","#8c8c8c","#5a5a5a","#9a9ab8","#4848e0","#1e2fa8","#40d8f0","#a8c8f0"]},
      "legend":{"orient":"none","legendX":478,"legendY":-58,"title":null,"symbolType":"M-2,0H2","symbolSize":121,"symbolStrokeWidth":2,"labelFontSize":12,"labelColor":"#000","labelOffset":12,"rowPadding":2}}}},
   {"data":{"name":"labR"},"mark":{"type":"text","fontSize":11,"color":"#111","font":"Liberation Sans"},
    "encoding":{"text":{"field":"s"}}},
   {"data":{"name":"legTitle"},"mark":{"type":"text","fontSize":12,"color":"#000","align":"left","baseline":"middle","font":"Liberation Sans"},
    "encoding":{"text":{"field":"s"}}},
   {"data":{"name":"legLine"},"mark":{"type":"rule","color":"#000","strokeWidth":1},
    "encoding":{"x2":{"field":"t2"}}}
  ]}
 ],"bounds":"flush","spacing":46},
{"title":{"text":"B","anchor":"start","frame":"bounds","fontSize":15,"fontWeight":"normal","offset":28,"dx":-17},
 "spacing":23,
 "vconcat":[
 {"hconcat":[
  {"width":130,"height":142,"data":{"name":"ergo"},"mark":{"type":"point","size":85,"strokeWidth":1.3,"opacity":1},
   "encoding":{
    "x":{"field":"x","type":"quantitative","scale":{"domain":[0,0.2],"nice":false},"axis":{"values":[0,0.1,0.2],"format":"~g","title":"mM ergosterol"}},
    "y":{"field":"y","type":"quantitative","scale":{"domain":[0,1],"nice":false},"axis":{"values":[0,0.1,0.2,0.3,0.4,0.5,0.6,0.7,0.8,0.9,1],"format":"~g","title":["nmol ergosterol/nmol","protein"],"titlePadding":2}},
    "stroke":{"field":"g","type":"nominal","scale":{"domain":["cytochrome c","CC1736"],"range":["#000000","#000000"]},"legend":{"orient":"none","legendX":185,"legendY":338,"direction":"horizontal","title":null,"labelFontSize":13.5,"labelColor":"#000","symbolSize":85,"symbolStrokeWidth":1.3,"labelOffset":2,"columnPadding":12}},
    "shape":{"field":"g","type":"nominal","scale":{"domain":["cytochrome c","CC1736"],"range":["square","diamond"]},"legend":{"orient":"none","legendX":185,"legendY":338,"direction":"horizontal","title":null,"labelFontSize":13.5,"labelColor":"#000","symbolSize":85,"symbolStrokeWidth":1.3,"labelOffset":2,"columnPadding":12}},
    "fill":{"field":"g","type":"nominal","scale":{"domain":["cytochrome c","CC1736"],"range":["#ffffff","#000000"]},"legend":{"orient":"none","legendX":185,"legendY":338,"direction":"horizontal","title":null,"labelFontSize":13.5,"labelColor":"#000","symbolSize":85,"symbolStrokeWidth":1.3,"labelOffset":2,"columnPadding":12}}}},
  {"width":140,"height":143,"data":{"name":"q10"},"mark":{"type":"point","size":85,"strokeWidth":1.3,"opacity":1},
   "encoding":{
    "x":{"field":"x","type":"quantitative","scale":{"domain":[0,0.2],"nice":false},"axis":{"values":[0,0.1,0.2],"format":"~g","title":"mM Q₁₀"}},
    "y":{"field":"y","type":"quantitative","scale":{"domain":[0,1],"nice":false},"axis":{"values":[0,0.2,0.4,0.6,0.8,1],"format":"~g","title":"nmol Q₁₀/nmol protein","titlePadding":12}},
    "stroke":{"field":"g","type":"nominal","scale":{"domain":["cytochrome c","CC1736"],"range":["#000000","#000000"]},"legend":{"orient":"none","legendX":185,"legendY":338,"direction":"horizontal","title":null,"labelFontSize":13.5,"labelColor":"#000","symbolSize":85,"symbolStrokeWidth":1.3,"labelOffset":2,"columnPadding":12}},
    "shape":{"field":"g","type":"nominal","scale":{"domain":["cytochrome c","CC1736"],"range":["square","diamond"]},"legend":{"orient":"none","legendX":185,"legendY":338,"direction":"horizontal","title":null,"labelFontSize":13.5,"labelColor":"#000","symbolSize":85,"symbolStrokeWidth":1.3,"labelOffset":2,"columnPadding":12}},
    "fill":{"field":"g","type":"nominal","scale":{"domain":["cytochrome c","CC1736"],"range":["#ffffff","#000000"]},"legend":{"orient":"none","legendX":185,"legendY":338,"direction":"horizontal","title":null,"labelFontSize":13.5,"labelColor":"#000","symbolSize":85,"symbolStrokeWidth":1.3,"labelOffset":2,"columnPadding":12}}}},
  {"width":139,"height":144,"data":{"name":"q2"},"mark":{"type":"point","size":85,"strokeWidth":1.3,"opacity":1},
   "encoding":{
    "x":{"field":"x","type":"quantitative","scale":{"domain":[0,0.25],"nice":false},"axis":{"values":[0,0.1,0.2],"format":"~g","title":"mM Q₂"}},
    "y":{"field":"y","type":"quantitative","scale":{"domain":[0,1],"nice":false},"axis":{"values":[0,0.1,0.2,0.3,0.4,0.5,0.6,0.7,0.8,0.9,1],"format":"~g","title":"nmol Q₂/nmol protein","titlePadding":6}},
    "stroke":{"field":"g","type":"nominal","scale":{"domain":["cytochrome c","CC1736"],"range":["#000000","#000000"]},"legend":{"orient":"none","legendX":185,"legendY":338,"direction":"horizontal","title":null,"labelFontSize":13.5,"labelColor":"#000","symbolSize":85,"symbolStrokeWidth":1.3,"labelOffset":2,"columnPadding":12}},
    "shape":{"field":"g","type":"nominal","scale":{"domain":["cytochrome c","CC1736"],"range":["square","diamond"]},"legend":{"orient":"none","legendX":185,"legendY":338,"direction":"horizontal","title":null,"labelFontSize":13.5,"labelColor":"#000","symbolSize":85,"symbolStrokeWidth":1.3,"labelOffset":2,"columnPadding":12}},
    "fill":{"field":"g","type":"nominal","scale":{"domain":["cytochrome c","CC1736"],"range":["#ffffff","#000000"]},"legend":{"orient":"none","legendX":185,"legendY":338,"direction":"horizontal","title":null,"labelFontSize":13.5,"labelColor":"#000","symbolSize":85,"symbolStrokeWidth":1.3,"labelOffset":2,"columnPadding":12}}}}
 ],"bounds":"flush","spacing":77},
 {"hconcat":[
  {"width":134,"height":139,"data":{"name":"q3"},"mark":{"type":"point","size":85,"strokeWidth":1.3,"opacity":1},
   "encoding":{
    "x":{"field":"x","type":"quantitative","scale":{"domain":[0,0.2],"nice":false},"axis":{"values":[0,0.1,0.2],"format":"~g","title":"mM Q₃"}},
    "y":{"field":"y","type":"quantitative","scale":{"domain":[0,1],"nice":false},"axis":{"values":[0,0.1,0.2,0.3,0.4,0.5,0.6,0.7,0.8,0.9,1],"format":"~g","title":"nmol Q₃/nmol protein","titlePadding":14}},
    "stroke":{"field":"g","type":"nominal","scale":{"domain":["cytochrome c","CC1736"],"range":["#000000","#000000"]},"legend":{"orient":"none","legendX":185,"legendY":338,"direction":"horizontal","title":null,"labelFontSize":13.5,"labelColor":"#000","symbolSize":85,"symbolStrokeWidth":1.3,"labelOffset":2,"columnPadding":12}},
    "shape":{"field":"g","type":"nominal","scale":{"domain":["cytochrome c","CC1736"],"range":["square","diamond"]},"legend":{"orient":"none","legendX":185,"legendY":338,"direction":"horizontal","title":null,"labelFontSize":13.5,"labelColor":"#000","symbolSize":85,"symbolStrokeWidth":1.3,"labelOffset":2,"columnPadding":12}},
    "fill":{"field":"g","type":"nominal","scale":{"domain":["cytochrome c","CC1736"],"range":["#ffffff","#000000"]},"legend":{"orient":"none","legendX":185,"legendY":338,"direction":"horizontal","title":null,"labelFontSize":13.5,"labelColor":"#000","symbolSize":85,"symbolStrokeWidth":1.3,"labelOffset":2,"columnPadding":12}}}},
  {"width":142,"height":136,"data":{"name":"dmq3"},"mark":{"type":"point","size":85,"strokeWidth":1.3,"opacity":1},
   "encoding":{
    "x":{"field":"x","type":"quantitative","scale":{"domain":[0,0.2],"nice":false},"axis":{"values":[0,0.1,0.2],"format":"~g","title":"mM DMQ₃"}},
    "y":{"field":"y","type":"quantitative","scale":{"domain":[0,1.5],"nice":false},"axis":{"values":[0,0.2,0.4,0.6,0.8,1,1.2,1.4],"format":"~g","title":"nmol DMQ₃/nmol protein","titlePadding":9}},
    "stroke":{"field":"g","type":"nominal","scale":{"domain":["cytochrome c","CC1736"],"range":["#000000","#000000"]},"legend":{"orient":"none","legendX":185,"legendY":338,"direction":"horizontal","title":null,"labelFontSize":13.5,"labelColor":"#000","symbolSize":85,"symbolStrokeWidth":1.3,"labelOffset":2,"columnPadding":12}},
    "shape":{"field":"g","type":"nominal","scale":{"domain":["cytochrome c","CC1736"],"range":["square","diamond"]},"legend":{"orient":"none","legendX":185,"legendY":338,"direction":"horizontal","title":null,"labelFontSize":13.5,"labelColor":"#000","symbolSize":85,"symbolStrokeWidth":1.3,"labelOffset":2,"columnPadding":12}},
    "fill":{"field":"g","type":"nominal","scale":{"domain":["cytochrome c","CC1736"],"range":["#ffffff","#000000"]},"legend":{"orient":"none","legendX":185,"legendY":338,"direction":"horizontal","title":null,"labelFontSize":13.5,"labelColor":"#000","symbolSize":85,"symbolStrokeWidth":1.3,"labelOffset":2,"columnPadding":12}}}},
  {"width":141,"height":134,"data":{"name":"fhb"},"mark":{"type":"point","size":85,"strokeWidth":1.3,"opacity":1},
   "encoding":{
    "x":{"field":"x","type":"quantitative","scale":{"domain":[0,0.2],"nice":false},"axis":{"values":[0,0.1,0.2],"format":"~g","title":"mM FHB"}},
    "y":{"field":"y","type":"quantitative","scale":{"domain":[0,1],"nice":false},"axis":{"values":[0,0.1,0.2,0.3,0.4,0.5,0.6,0.7,0.8,0.9,1],"format":"~g","title":"nmol FHB/nmol protein","titlePadding":6}},
    "stroke":{"field":"g","type":"nominal","scale":{"domain":["cytochrome c","CC1736"],"range":["#000000","#000000"]},"legend":{"orient":"none","legendX":185,"legendY":338,"direction":"horizontal","title":null,"labelFontSize":13.5,"labelColor":"#000","symbolSize":85,"symbolStrokeWidth":1.3,"labelOffset":2,"columnPadding":12}},
    "shape":{"field":"g","type":"nominal","scale":{"domain":["cytochrome c","CC1736"],"range":["square","diamond"]},"legend":{"orient":"none","legendX":185,"legendY":338,"direction":"horizontal","title":null,"labelFontSize":13.5,"labelColor":"#000","symbolSize":85,"symbolStrokeWidth":1.3,"labelOffset":2,"columnPadding":12}},
    "fill":{"field":"g","type":"nominal","scale":{"domain":["cytochrome c","CC1736"],"range":["#ffffff","#000000"]},"legend":{"orient":"none","legendX":185,"legendY":338,"direction":"horizontal","title":null,"labelFontSize":13.5,"labelColor":"#000","symbolSize":85,"symbolStrokeWidth":1.3,"labelOffset":2,"columnPadding":12}}}}
 ],"bounds":"flush","spacing":77}
 ]}
]
}
